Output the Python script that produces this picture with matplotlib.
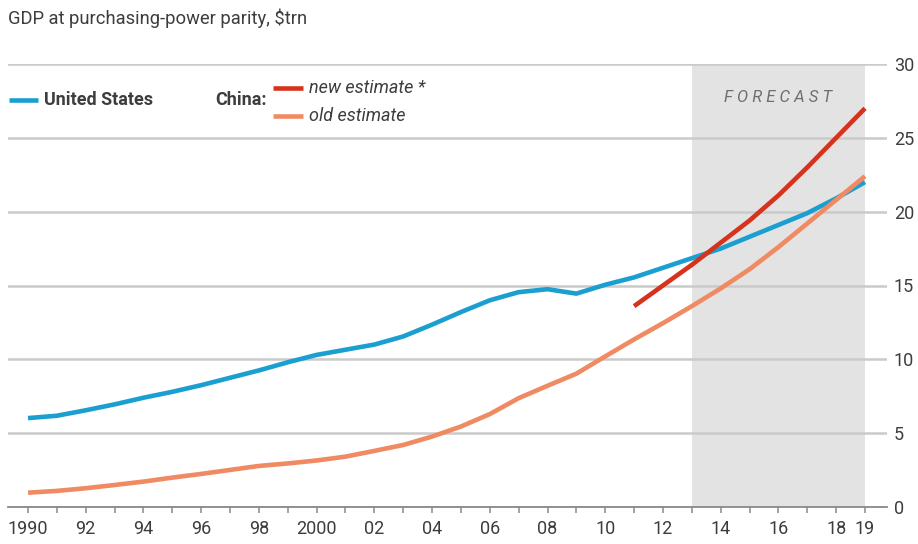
import matplotlib
matplotlib.use("Agg")
import matplotlib.pyplot as plt
from matplotlib.lines import Line2D

# GDP at purchasing-power parity, $trn
years = list(range(1990, 2020))
us_gdp = [6.02, 6.18, 6.55, 6.95, 7.4, 7.8, 8.25, 8.75, 9.25, 9.8,
          10.3, 10.65, 11.0, 11.55, 12.35, 13.2, 14.0, 14.55, 14.75, 14.45,
          15.05, 15.55, 16.2, 16.85, 17.5, 18.3, 19.1, 19.9, 20.9, 22.0]
china_old = [0.97, 1.09, 1.27, 1.49, 1.72, 1.99, 2.24, 2.51, 2.78, 2.95,
             3.15, 3.41, 3.8, 4.2, 4.77, 5.45, 6.29, 7.37, 8.21, 9.03,
             10.2, 11.35, 12.45, 13.6, 14.8, 16.1, 17.6, 19.2, 20.8, 22.4]
new_years = list(range(2011, 2020))
china_new = [13.6, 15.0, 16.4, 17.9, 19.4, 21.1, 23.0, 25.0, 27.0]

forecast_start, forecast_end = 2013, 2019
y_ticks = [0, 5, 10, 15, 20, 25, 30]
x_tick_years = list(range(1990, 2020, 2)) + [2019]
x_tick_labels = ["1990", "92", "94", "96", "98", "2000", "02", "04", "06",
                 "08", "10", "12", "14", "16", "18", "19"]

BLUE = "#1a9fd0"
RED = "#d7321c"
ORANGE = "#f08a62"
SHADE = "#e3e3e3"
GRID = "#cacaca"
TEXT = "#3d3d3d"

FONT = ["Roboto", "DejaVu Sans"]
plt.rcParams["font.family"] = FONT

W, H = 918, 544
fig = plt.figure(figsize=(W / 100, H / 100), dpi=100)


def fx(px):
    return px / W


def fy(py):
    return 1 - py / H


left, right, top, bottom = 8, 887, 64, 507
ax = fig.add_axes([fx(left), fy(bottom), fx(right - left), (bottom - top) / H])

px_per_year = (865 - 28) / 29
x0 = 1990 - (28 - left) / px_per_year
x1 = 2019 + (right - 865) / px_per_year
ax.set_xlim(x0, x1)
ax.set_ylim(0, 30)

ax.axvspan(forecast_start, forecast_end, color=SHADE, zorder=0, lw=0)

ax.set_axisbelow(True)
ax.yaxis.grid(True, color=GRID, lw=1.8)
ax.xaxis.grid(False)

lw = 3.3
ax.plot(years, us_gdp, color=BLUE, lw=lw, solid_capstyle="butt", zorder=3)
ax.plot(years, china_old, color=ORANGE, lw=lw, solid_capstyle="butt", zorder=4)
ax.plot(new_years, china_new, color=RED, lw=lw, solid_capstyle="butt", zorder=5)

for s in ["top", "left", "right"]:
    ax.spines[s].set_visible(False)
ax.spines["bottom"].set_color("#8a8a8a")
ax.spines["bottom"].set_linewidth(1.3)

ax.yaxis.tick_right()
ax.set_yticks(y_ticks)
ax.set_yticklabels([str(v) for v in y_ticks])
ax.tick_params(axis="y", length=0, pad=5, labelsize=13, labelcolor=TEXT)

ax.set_xticks(years, minor=True)
ax.set_xticks(x_tick_years)
ax.set_xticklabels(x_tick_labels)
ax.tick_params(axis="x", which="both", direction="out", length=4.5,
               width=1.1, color="#8a8a8a")
ax.tick_params(axis="x", which="major", pad=5, labelsize=13, labelcolor=TEXT)

ax.text((forecast_start + forecast_end) / 2, 27.75, "F O R E C A S T",
        ha="center", va="center", fontsize=12, style="italic",
        color="#6e6e6e")

fig.text(fx(8), fy(18), "GDP at purchasing-power parity, $trn",
         ha="left", va="center", fontsize=13.2, color=TEXT)

# legend
def legend_line(xa, xb, y, color):
    fig.add_artist(Line2D([fx(xa), fx(xb)], [fy(y), fy(y)],
                          transform=fig.transFigure, color=color, lw=lw,
                          solid_capstyle="butt"))

legend_line(9, 38, 100, BLUE)
fig.text(fx(44), fy(100), "United States", ha="left", va="center",
         fontsize=13, fontweight="bold", color=TEXT)
fig.text(fx(215), fy(100), "China:", ha="left", va="center",
         fontsize=13, fontweight="bold", color=TEXT)
legend_line(273, 303, 88, RED)
legend_line(273, 303, 116, ORANGE)
fig.text(fx(309), fy(88), "new estimate *", ha="left", va="center",
         fontsize=13, style="italic", color=TEXT)
fig.text(fx(309), fy(116), "old estimate", ha="left", va="center",
         fontsize=13, style="italic", color=TEXT)

fig.savefig("out.png", dpi=100, facecolor="white")
